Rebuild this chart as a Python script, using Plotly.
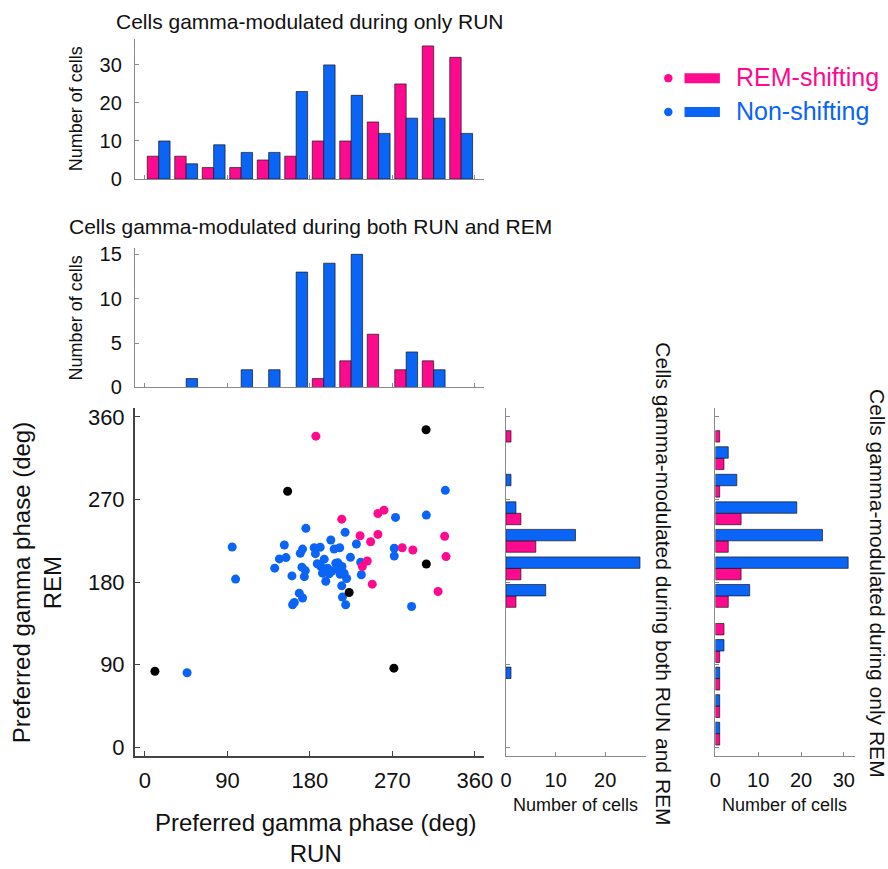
import plotly.graph_objects as go

# ---------------- data ----------------
bin_centers = [15, 45, 75, 105, 135, 165, 195, 225, 255, 285, 315, 345]

# Cells gamma-modulated during only RUN (histogram of RUN phase)
run_only_shift = [6, 6, 3, 3, 5, 6, 10, 10, 15, 25, 35, 32]
run_only_non = [10, 4, 9, 7, 7, 23, 30, 22, 12, 16, 16, 12]

# Cells gamma-modulated during both RUN and REM (RUN phase)
both_run_shift = [0, 0, 0, 0, 0, 0, 1, 3, 6, 2, 3, 0]
both_run_non = [0, 1, 0, 2, 2, 13, 14, 15, 0, 4, 2, 0]

# Cells gamma-modulated during both RUN and REM (REM phase)
both_rem_shift = [0, 0, 0, 0, 0, 2, 3, 6, 3, 0, 0, 1]
both_rem_non = [0, 0, 1, 0, 0, 8, 27, 14, 2, 1, 0, 0]

# Cells gamma-modulated during only REM (REM phase)
rem_only_shift = [1, 1, 1, 1, 2, 3, 6, 3, 6, 1, 2, 1]
rem_only_non = [1, 1, 1, 2, 0, 8, 31, 25, 19, 5, 3, 0]

# Scatter: preferred phase RUN (x) vs REM (y)
shift_run = [186.5, 214.7, 234.7, 246.2, 254.2, 260.8, 254.2, 242.6, 237.2, 248.0,
             280.7, 292.3, 327.0, 328.5, 319.8]
shift_rem = [339.0, 248.6, 230.5, 224.0, 254.8, 258.4, 232.0, 203.0, 197.0, 177.8,
             217.5, 215.0, 230.0, 207.8, 169.8]

non_run = [327.7, 307.0, 273.4, 218.4, 175.6, 95.2, 98.9, 230.7, 224.2, 272.0,
           272.0, 236.1, 235.4, 290.9, 46.0,
           152.1, 202.8, 184.7, 191.2, 172.0, 169.5, 206.4, 212.5, 146.7, 153.9,
           141.6, 160.4, 171.3, 175.0, 173.9, 195.6,
           214.7, 215.5, 219.0, 168.4, 172.0, 163.0, 161.1,
           191.9, 199.2, 208.2, 193.7, 201.0, 204.0, 197.3, 188.0, 186.0,
           217.3, 211.0, 210.5, 213.0, 215.0, 220.0]
non_rem = [280.0, 253.0, 250.5, 234.2, 238.6, 218.3, 183.3, 221.5, 207.0, 216.9,
           208.5, 188.0, 201.7, 153.5, 81.3,
           220.4, 225.9, 217.5, 218.0, 216.0, 211.4, 216.0, 217.5, 205.3, 206.7,
           195.2, 186.8, 196.3, 192.6, 186.0, 205.0,
           176.0, 163.7, 155.4, 168.0, 162.7, 157.9, 155.4,
           197.0, 195.2, 200.6, 189.8, 189.0, 192.0, 181.0, 200.0, 211.0,
           189.8, 194.0, 201.0, 188.5, 197.0, 184.0]

other_run = [155.7, 306.7, 307.0, 222.8, 10.9, 271.6]
other_rem = [279.0, 346.0, 199.8, 168.7, 83.0, 86.3]

phase_ticks = [0, 90, 180, 270, 360]
series_names = ["REM-shifting", "Non-shifting"]

# ---------------- style ----------------
PINK = "#FF0A8E"
BLUE = "#0A64F5"
FONT = "Liberation Sans, Arial, Helvetica, sans-serif"
W, H = 888, 869
HIST_AX = "#8a8a8a"
SC_AX = "#444444"
# small correction for the photographed page (observed = A + S * placed)
S, A = 0.986, 2.5


def fx(px):
    return ((px - A) / S) / W


def fy(py):
    return 1 - ((py - A) / S) / H


def nz(vals):
    return [v if v else None for v in vals]


fig = go.Figure()

bar_line = dict(color="rgba(20,20,20,0.85)", width=0.8)

# top histogram: only RUN
fig.add_trace(go.Bar(x=bin_centers, y=nz(run_only_shift), marker=dict(color=PINK, line=bar_line),
                     xaxis="x", yaxis="y", name=series_names[0], showlegend=False))
fig.add_trace(go.Bar(x=bin_centers, y=nz(run_only_non), marker=dict(color=BLUE, line=bar_line),
                     xaxis="x", yaxis="y", name=series_names[1], showlegend=False))
# middle histogram: both RUN and REM (RUN phase)
fig.add_trace(go.Bar(x=bin_centers, y=nz(both_run_shift), marker=dict(color=PINK, line=bar_line),
                     xaxis="x2", yaxis="y2", name=series_names[0], showlegend=False))
fig.add_trace(go.Bar(x=bin_centers, y=nz(both_run_non), marker=dict(color=BLUE, line=bar_line),
                     xaxis="x2", yaxis="y2", name=series_names[1], showlegend=False))
# scatter
fig.add_trace(go.Scatter(x=non_run, y=non_rem, mode="markers", marker=dict(color=BLUE, size=9),
                         xaxis="x3", yaxis="y3", name=series_names[1], showlegend=False))
fig.add_trace(go.Scatter(x=shift_run, y=shift_rem, mode="markers", marker=dict(color=PINK, size=9),
                         xaxis="x3", yaxis="y3", name=series_names[0], showlegend=False))
fig.add_trace(go.Scatter(x=other_run, y=other_rem, mode="markers", marker=dict(color="black", size=9),
                         xaxis="x3", yaxis="y3", name="Other", showlegend=False))
# right histogram 1: both RUN and REM (REM phase)
fig.add_trace(go.Bar(y=bin_centers, x=nz(both_rem_shift), orientation="h",
                     marker=dict(color=PINK, line=bar_line),
                     xaxis="x4", yaxis="y4", name=series_names[0], showlegend=False))
fig.add_trace(go.Bar(y=bin_centers, x=nz(both_rem_non), orientation="h",
                     marker=dict(color=BLUE, line=bar_line),
                     xaxis="x4", yaxis="y4", name=series_names[1], showlegend=False))
# right histogram 2: only REM
fig.add_trace(go.Bar(y=bin_centers, x=nz(rem_only_shift), orientation="h",
                     marker=dict(color=PINK, line=bar_line),
                     xaxis="x5", yaxis="y5", name=series_names[0], showlegend=False))
fig.add_trace(go.Bar(y=bin_centers, x=nz(rem_only_non), orientation="h",
                     marker=dict(color=BLUE, line=bar_line),
                     xaxis="x5", yaxis="y5", name=series_names[1], showlegend=False))

SC_X = [fx(131.7), fx(482.0)]
SC_Y = [fy(757.0), fy(407.0)]
PH_RANGE_X = [-11, 370]
PH_RANGE_Y = [-9.5, 370]


def hist_axis(**kw):
    d = dict(showline=True, linecolor=HIST_AX, linewidth=1, ticks="inside", ticklen=4,
             tickcolor=HIST_AX, showgrid=False, zeroline=False,
             tickfont=dict(family=FONT, size=20, color="#111"), fixedrange=True)
    d.update(kw)
    return d


def sc_axis(**kw):
    d = dict(showline=True, linecolor=SC_AX, linewidth=1.6, ticks="inside", ticklen=5,
             tickcolor=SC_AX, showgrid=False, zeroline=False,
             tickfont=dict(family=FONT, size=22, color="#111"), fixedrange=True)
    d.update(kw)
    return d


layout = dict(
    width=W, height=H,
    margin=dict(l=0, r=0, t=0, b=0),
    paper_bgcolor="white", plot_bgcolor="white",
    barmode="group", bargap=0.17, bargroupgap=0,
    showlegend=False,
    font=dict(family=FONT, color="#111"),
    # top histogram
    xaxis=hist_axis(domain=SC_X, range=PH_RANGE_X, tickvals=phase_ticks, showticklabels=False,
                    anchor="y"),
    yaxis=hist_axis(domain=[fy(177.3), fy(36.7)], range=[0, 36.8], tickvals=[0, 10, 20, 30],
                    anchor="x", ticklabelstandoff=8),
    # middle histogram
    xaxis2=hist_axis(domain=SC_X, range=PH_RANGE_X, tickvals=phase_ticks, showticklabels=False,
                     anchor="y2"),
    yaxis2=hist_axis(domain=[fy(386.7), fy(246.7)], range=[0, 15.7], tickvals=[0, 5, 10, 15],
                     anchor="x2", ticklabelstandoff=8),
    # scatter
    xaxis3=sc_axis(domain=SC_X, range=PH_RANGE_X, tickvals=phase_ticks, anchor="y3",
                   ticklabelstandoff=4),
    yaxis3=sc_axis(domain=SC_Y, range=PH_RANGE_Y, tickvals=phase_ticks, anchor="x3",
                   ticklabelstandoff=4),
    # right histogram 1
    xaxis4=hist_axis(domain=[fx(504), fx(644.3)], range=[0, 28.2], tickvals=[0, 10, 20],
                     anchor="y4", ticklabelstandoff=6),
    yaxis4=hist_axis(domain=SC_Y, range=PH_RANGE_Y, tickvals=phase_ticks, showticklabels=False,
                     anchor="x4"),
    # right histogram 2
    xaxis5=hist_axis(domain=[fx(714), fx(854)], range=[0, 32.6], tickvals=[0, 10, 20, 30],
                     anchor="y5", ticklabelstandoff=6),
    yaxis5=hist_axis(domain=SC_Y, range=PH_RANGE_Y, tickvals=phase_ticks, showticklabels=False,
                     anchor="x5"),
)

ann = []


def add_text(text, x, y, size, xanchor="center", yanchor="middle", angle=0, color="#111"):
    ann.append(dict(text=text, x=fx(x), y=fy(y), xref="paper", yref="paper",
                    xanchor=xanchor, yanchor=yanchor, showarrow=False, textangle=angle,
                    font=dict(family=FONT, size=size, color=color)))


add_text("Cells gamma-modulated during only RUN", 111, 19, 21, xanchor="left")
add_text("Cells gamma-modulated during both RUN and REM", 64, 225, 21, xanchor="left")
add_text("Number of cells", 73, 107, 18, angle=-90)
add_text("Number of cells", 73, 317, 18, angle=-90)
add_text("Preferred gamma phase (deg)<br>RUN", 313, 839, 24)
add_text("Preferred gamma phase (deg)<br>REM", 33, 582, 24, angle=-90)
add_text("Number of cells", 574, 806, 18)
add_text("Number of cells", 783, 806, 18)
add_text("Cells gamma-modulated during both RUN and REM", 662, 584, 21, angle=90)
add_text("Cells gamma-modulated during only REM", 876, 584, 21, angle=90)
# legend texts
add_text(series_names[0], 733, 75, 25, xanchor="left", color=PINK)
add_text(series_names[1], 733, 109, 25, xanchor="left", color=BLUE)

shapes = []
for cy, col in [(76, PINK), (110, BLUE)]:
    shapes.append(dict(type="circle", xref="paper", yref="paper",
                       x0=fx(662.5), x1=fx(671), y0=fy(cy + 4.2), y1=fy(cy - 4.2),
                       fillcolor=col, line=dict(width=0)))
    shapes.append(dict(type="rect", xref="paper", yref="paper",
                       x0=fx(683), x1=fx(718.5), y0=fy(cy + 5), y1=fy(cy - 5),
                       fillcolor=col, line=dict(width=0)))

layout["annotations"] = ann
layout["shapes"] = shapes
fig.update_layout(**layout)

# remove the default page margin so the figure fills the window exactly
fig.write_html("out.html", config={"displayModeBar": False},
               post_script="document.body.style.margin='0px';document.body.style.overflow='hidden';")
